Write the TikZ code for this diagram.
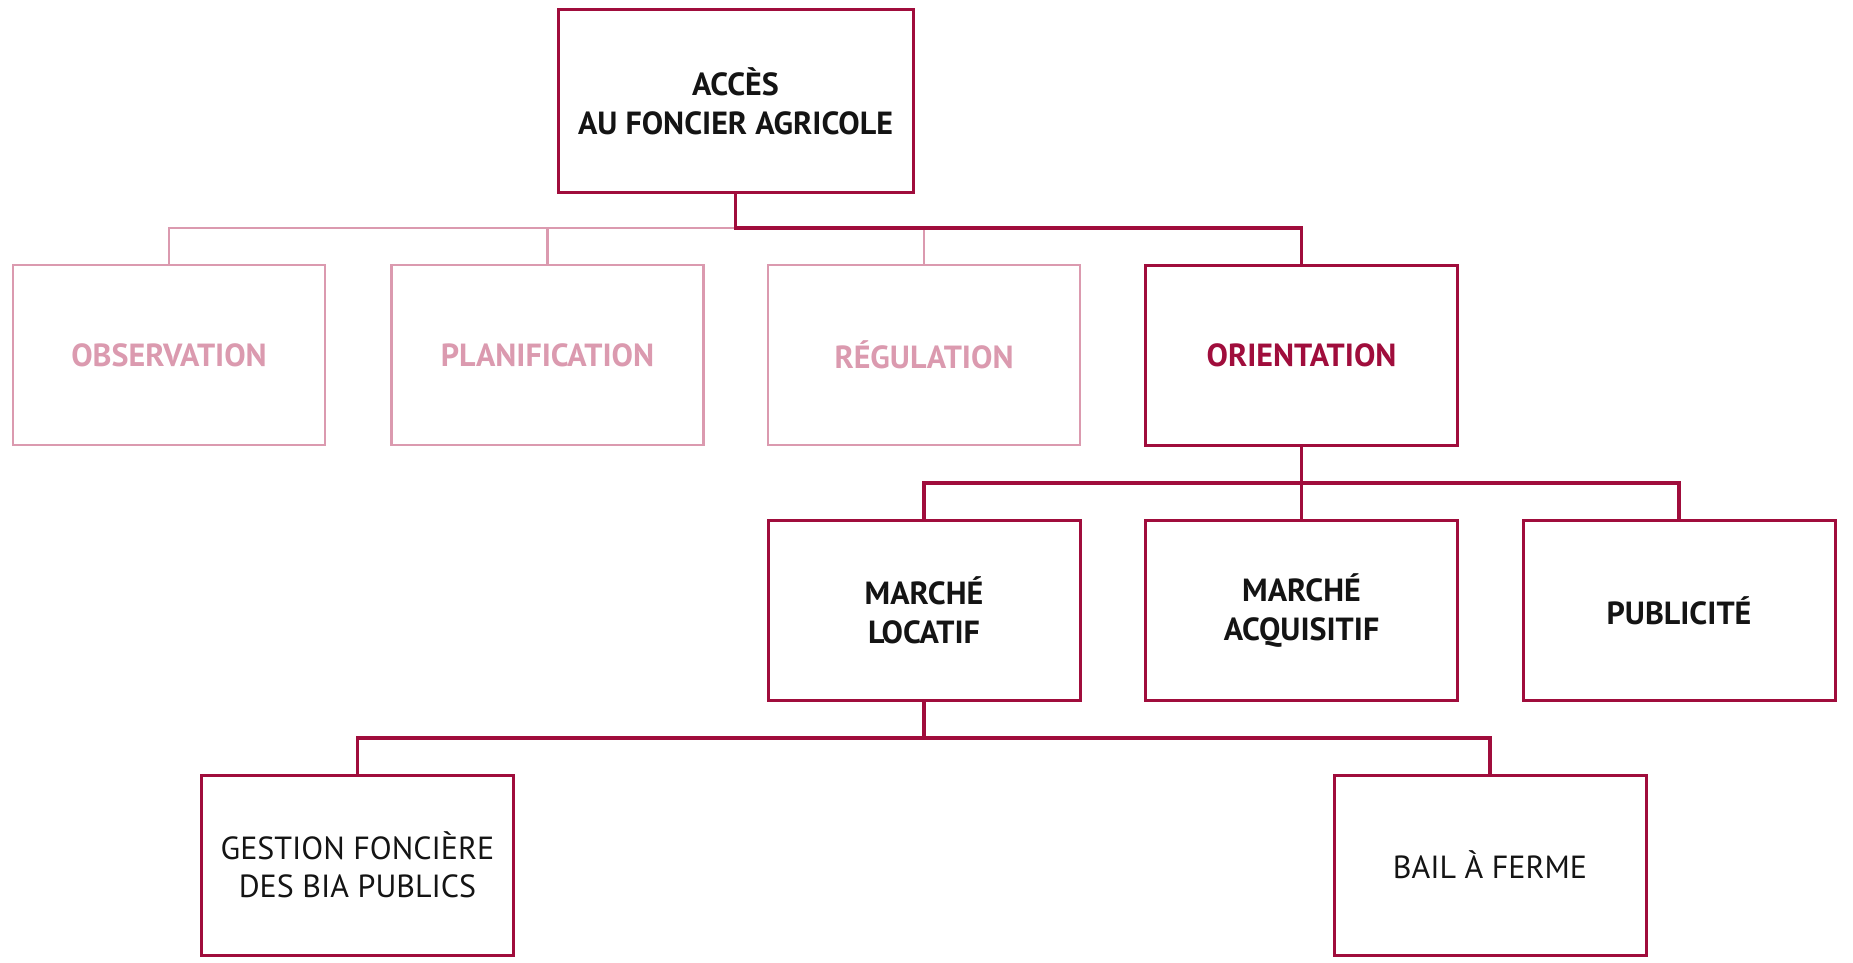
\documentclass[tikz,border=0pt]{standalone}
\usepackage{fontspec}
\setmainfont{PT Sans}
\definecolor{crimson}{HTML}{A00D3C}
\definecolor{rose}{HTML}{DB9AAF}
\definecolor{ink}{HTML}{141414}
\tikzset{
  box/.style={draw=crimson, line width=3pt, fill=white, minimum width=312pt,
    minimum height=180pt, inner sep=0pt, align=center, text=ink,
    font=\fontsize{32}{39}\selectfont\bfseries},
  lightbox/.style={box, draw=rose, line width=2.4pt, text=rose},
  plainbox/.style={box, font=\fontsize{32}{38}\selectfont},
  link/.style={draw=crimson, line width=3.2pt},
  lightlink/.style={draw=rose, line width=2.4pt},
}
\begin{document}
\begin{tikzpicture}[x=1pt,y=-1pt]
\useasboundingbox (0,0) rectangle (1853,963);
\fill[white] (0,0) rectangle (1853,963);

% bus levels
\coordinate (l1) at (0,228);
\coordinate (l2) at (0,483);
\coordinate (l3) at (0,738);

% level 1
\node[box, minimum width=355pt, minimum height=182pt] (top) at (735.5,101) {ACCÈS\\AU FONCIER AGRICOLE};

% level 2
\node[lightbox] (obs)  at (169,355)   {OBSERVATION};
\node[lightbox] (plan) at (547.5,355) {PLANIFICATION};
\node[lightbox] (reg)  at (924,355)   {RÉGULATION};
\node[box, text=crimson] (ori) at (1301.5,355) {ORIENTATION};

% level 3
\node[box] (loc) at (924,610.5)    {MARCHÉ\\LOCATIF};
\node[box] (acq) at (1301.5,610.5) {MARCHÉ\\ACQUISITIF};
\node[box] (pub) at (1679,610.5)   {PUBLICITÉ};

% level 4
\node[plainbox] (gest) at (357.5,865) {GESTION FONCIÈRE\\DES BIA PUBLICS};
\node[plainbox] (bail) at (1490,865)  {BAIL À FERME};

% connectors: top to level 2
\draw[lightlink] (obs.north) -- (obs.north |- l1) -- (top.south |- l1);
\draw[lightlink] (plan.north) -- (plan.north |- l1);
\draw[lightlink] (reg.north) -- (reg.north |- l1);
\draw[link] (top.south) -- (top.south |- l1) -- (ori.north |- l1) -- (ori.north);

% orientation to level 3
\draw[link] (loc.north) -- (loc.north |- l2) -- (acq.north |- l2) -- (pub.north |- l2) -- (pub.north);
\draw[link] (ori.south) -- (acq.north);

% marché locatif to level 4
\draw[link] (gest.north) -- (gest.north |- l3) -- (bail.north |- l3) -- (bail.north);
\draw[link] (loc.south) -- (loc.south |- l3);
\end{tikzpicture}
\end{document}
